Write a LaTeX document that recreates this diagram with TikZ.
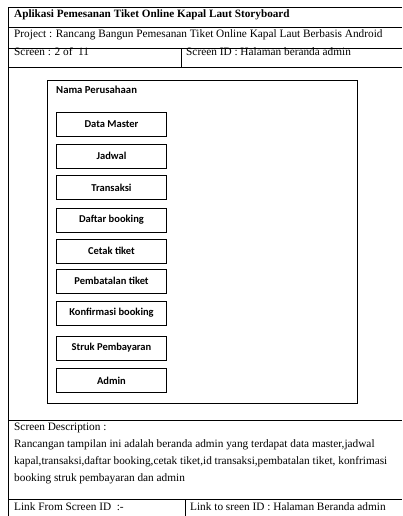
\documentclass[tikz,border=0pt]{standalone}
\usepackage{fontspec}
\setmainfont{Liberation Serif}
\newfontfamily\calibri{Carlito}
\usetikzlibrary{positioning}

\begin{document}
\begin{tikzpicture}[x=1pt,y=-1pt,
	menu_node/.style={draw,line width=0.8pt,minimum width=110pt,minimum height=24pt,inner sep=0pt,font=\calibri\bfseries\fontsize{10.5}{12}\selectfont},
	cell_text/.style={anchor=base west,inner sep=0pt,font=\fontsize{11.3}{13}\selectfont},
	grid_line/.style={line width=0.7pt}]
				\useasboundingbox (0,0) rectangle (402,516);
				% storyboard table
				\draw[grid_line] (402,7) -- (8,7) -- (8,516);
				\draw[grid_line] (8,27) -- (402,27);
				\draw[grid_line] (8,48) -- (402,48);
				\draw[grid_line] (8,67) -- (402,67);
				\draw[grid_line] (181,48) -- (181,67);
				\draw[grid_line] (8,420) -- (402,420);
				\draw[grid_line] (8,499) -- (402,499);
				\draw[grid_line] (185,499) -- (185,516);
				\node[cell_text,font=\bfseries\fontsize{11.2}{13}\selectfont](title) at (14,18){Aplikasi Pemesanan Tiket Online Kapal Laut Storyboard};
				\node[cell_text](project) at (14,37.5){Project : Rancang Bangun Pemesanan Tiket Online Kapal Laut Berbasis Android};
				\node[cell_text](screen) at (14,56){Screen : 2 of \ 11};
				\node[cell_text](screenid) at (186,56){Screen ID : Halaman beranda admin};
				\node[cell_text](desc) at (14,430){Screen Description :};
				\node[cell_text](desc1) at (14,447){Rancangan tampilan ini adalah beranda admin yang terdapat data master,jadwal};
				\node[cell_text](desc2) at (14,464){kapal,transaksi,daftar booking,cetak tiket,id transaksi,pembatalan tiket, konfrimasi};
				\node[cell_text](desc3) at (14,481){booking struk pembayaran dan admin};
				\node[cell_text](linkfrom) at (14,510){Link From Screen ID \ :-};
				\node[cell_text](linkto) at (190,510){Link to sreen ID : Halaman Beranda admin};
				% screen
				\draw[line width=0.8pt] (47,80) rectangle (357,403);
				\node[anchor=base west,inner sep=0pt,font=\calibri\bfseries\fontsize{10.7}{12}\selectfont](company) at (56,94){Nama Perusahaan};
				\node[menu_node](1) at (111.5,124){Data Master};
				\node[menu_node](2) at (111.5,156){Jadwal};
				\node[menu_node](3) at (111.5,187.5){Transaksi};
				\node[menu_node](4) at (111.5,220){Daftar booking};
				\node[menu_node](5) at (111.5,251){Cetak tiket};
				\node[menu_node](6) at (111.5,281){Pembatalan tiket};
				\node[menu_node](7) at (111.5,313){Konfirmasi booking};
				\node[menu_node](8) at (111.5,348){Struk Pembayaran};
				\node[menu_node](9) at (111.5,380.5){Admin};
			\end{tikzpicture}
\end{document}
